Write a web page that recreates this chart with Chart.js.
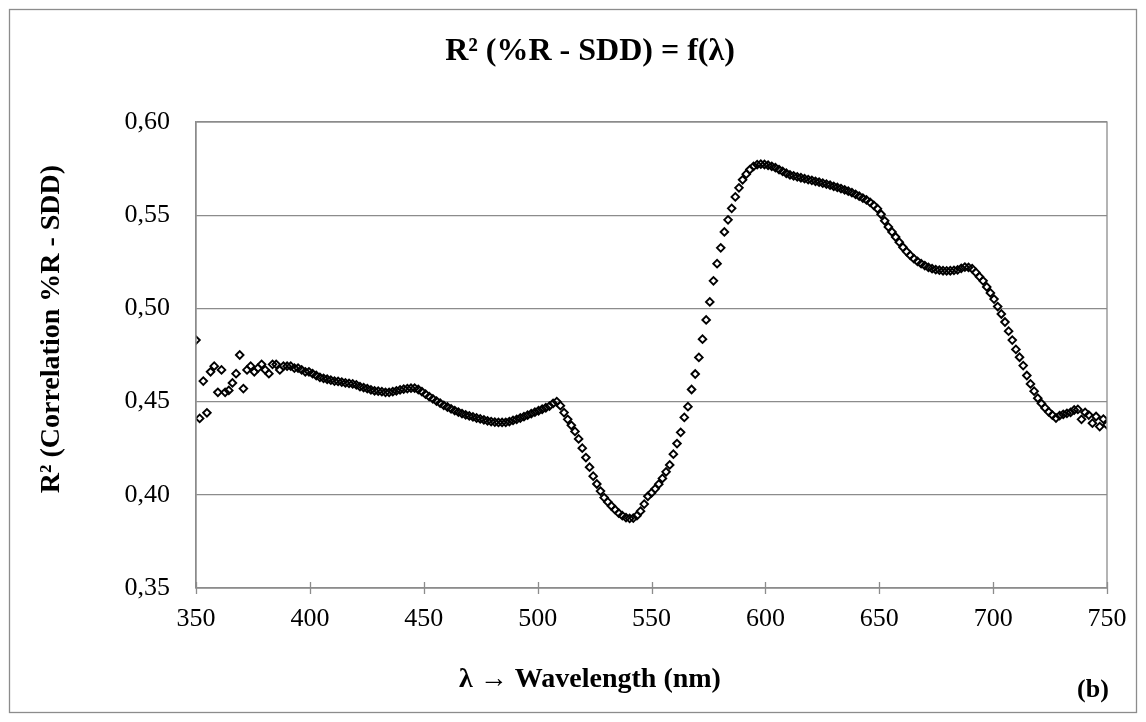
<!DOCTYPE html>
<html>
<head>
<meta charset="utf-8">
<script src="https://cdn.jsdelivr.net/npm/chart.js@4/dist/chart.umd.min.js"></script>
<style>
html,body{margin:0;padding:0;background:#fff;}
#wrap{width:1146px;height:722px;}
</style>
</head>
<body>
<div id="wrap"><canvas id="c" width="1146" height="722"></canvas></div>
<script>
const chartTitle = 'R² (%R - SDD) = f(λ)';
const xTitle = 'λ → Wavelength (nm)';
const yTitle = 'R² (Correlation %R - SDD)';
const panelLabel = '(b)';

const wavelengths = [
350,351.6,353.2,354.8,356.4,358,359.6,361.2,362.8,364.4,366,367.6,369.2,370.8,372.4,374,375.6,377.2,378.8,380.4,382,383.6,385.2,386.8,388.4,
390,391.6,393.2,394.8,396.4,398,399.6,401.2,402.8,404.4,406,407.6,409.2,410.8,412.4,414,415.6,417.2,418.8,420.4,422,423.6,425.2,426.8,428.4,
430,431.6,433.2,434.8,436.4,438,439.6,441.2,442.8,444.4,446,447.6,449.2,450.8,452.4,454,455.6,457.2,458.8,460.4,462,463.6,465.2,466.8,468.4,
470,471.6,473.2,474.8,476.4,478,479.6,481.2,482.8,484.4,486,487.6,489.2,490.8,492.4,494,495.6,497.2,498.8,500.4,502,503.6,505.2,506.8,508.4,
510,511.6,513.2,514.8,516.4,518,519.6,521.2,522.8,524.4,526,527.6,529.2,530.8,532.4,534,535.6,537.2,538.8,540.4,542,543.6,545.2,546.8,548.4,
550,551.6,553.2,554.8,556.4,558,559.6,561.2,562.8,564.4,566,567.6,569.2,570.8,572.4,574,575.6,577.2,578.8,580.4,582,583.6,585.2,586.8,588.4,
590,591.6,593.2,594.8,596.4,598,599.6,601.2,602.8,604.4,606,607.6,609.2,610.8,612.4,614,615.6,617.2,618.8,620.4,622,623.6,625.2,626.8,628.4,
630,631.6,633.2,634.8,636.4,638,639.6,641.2,642.8,644.4,646,647.6,649.2,650.8,652.4,654,655.6,657.2,658.8,660.4,662,663.6,665.2,666.8,668.4,
670,671.6,673.2,674.8,676.4,678,679.6,681.2,682.8,684.4,686,687.6,689.2,690.8,692.4,694,695.6,697.2,698.8,700.4,702,703.6,705.2,706.8,708.4,
710,711.6,713.2,714.8,716.4,718,719.6,721.2,722.8,724.4,726,727.6,729.2,730.8,732.4,734,735.6,737.2,738.8,740.4,742,743.6,745.2,746.8,748.4,
750
];

const r2 = [
0.483,0.441,0.461,0.444,0.466,0.469,0.455,0.467,0.455,0.456,0.460,0.465,0.475,0.457,0.467,0.469,0.466,0.468,0.470,0.467,0.465,0.470,0.470,0.467,0.469,
0.469,0.469,0.468,0.468,0.467,0.466,0.466,0.465,0.464,0.463,0.4625,0.462,0.4615,0.461,0.4608,0.4605,0.460,0.4598,0.4595,0.459,0.458,0.4575,0.457,0.4563,0.4558,
0.4556,0.4553,0.455,0.455,0.4553,0.4558,0.4563,0.4567,0.457,0.4572,0.4572,0.4565,0.4553,0.454,0.4527,0.4515,0.4503,0.4492,0.448,0.4471,0.4461,0.4452,0.4444,0.4436,0.4429,
0.4423,0.4418,0.4412,0.4407,0.4402,0.4397,0.4393,0.439,0.4388,0.4388,0.4389,0.4393,0.4399,0.4405,0.4412,0.4419,0.4427,0.4435,0.4443,0.4451,0.4459,0.4467,0.4476,0.449,0.450,
0.4478,0.4441,0.4405,0.4373,0.434,0.430,0.425,0.420,0.4148,0.410,0.4058,0.402,0.3985,0.3962,0.394,0.392,0.3902,0.3888,0.3878,0.3873,0.3875,0.3888,0.3912,0.395,0.3992,
0.4010,0.4032,0.4057,0.4088,0.4123,0.4160,0.4218,0.4275,0.4335,0.4415,0.4473,0.4565,0.4648,0.4737,0.4835,0.4938,0.5035,0.5148,0.5240,0.5325,0.5410,0.5475,0.5537,0.5598,0.5647,
0.5690,0.5720,0.5745,0.5762,0.5771,0.5774,0.5772,0.5768,0.5762,0.5755,0.5745,0.5735,0.5725,0.5716,0.5711,0.5706,0.5701,0.5696,0.5691,0.5687,0.5682,0.5677,0.5672,0.5667,0.5661,
0.5655,0.5649,0.5643,0.5636,0.5629,0.5621,0.5612,0.5602,0.5592,0.5582,0.5569,0.5553,0.5535,0.5505,0.5470,0.5437,0.5410,0.5383,0.5355,0.5328,0.5305,0.5285,0.5267,0.5252,0.5240,
0.5230,0.5220,0.5213,0.5208,0.5205,0.5202,0.5201,0.5202,0.5204,0.5207,0.5215,0.5222,0.5220,0.5213,0.5193,0.5170,0.5148,0.5115,0.5083,0.5050,0.5010,0.4970,0.4927,0.4878,0.4830,
0.4780,0.4738,0.4693,0.4640,0.4595,0.4556,0.4518,0.4490,0.4466,0.4445,0.4428,0.4412,0.4425,0.4432,0.4437,0.4442,0.4455,0.4458,0.4405,0.4442,0.4428,0.4384,0.4420,0.4366,0.4406,
0.4375
];

const xMin = 350, xMax = 750, xStep = 50;
const yMin = 0.35, yMax = 0.60, yStep = 0.05;

const FONT = "'Liberation Serif', 'Times New Roman', serif";
const GRID = '#8c8c8c';

const points = wavelengths.map((w, i) => ({x: w, y: r2[i]}));

const decor = {
  id: 'decor',
  beforeDraw(chart) {
    const c = chart.ctx;
    c.save();
    c.fillStyle = '#fff';
    c.fillRect(0, 0, chart.width, chart.height);
    c.restore();
  },
  afterDraw(chart) {
    const c = chart.ctx;
    const a = chart.chartArea;
    const xs = chart.scales.x;
    c.save();
    c.strokeStyle = GRID;
    c.lineWidth = 1.3;
    c.strokeRect(9.5, 9.5, 1127, 703);
    c.strokeRect(a.left, a.top, a.right - a.left, a.bottom - a.top);
    c.beginPath();
    xs.ticks.forEach(t => {
      const px = Math.round(xs.getPixelForValue(t.value)) + 0.5;
      c.moveTo(px, a.bottom - 6);
      c.lineTo(px, a.bottom + 6);
    });
    c.stroke();
    c.fillStyle = '#000';
    c.textAlign = 'center';
    c.textBaseline = 'middle';
    c.font = "bold 32px " + FONT;
    c.fillText(chartTitle, 590, 52);
    c.font = "bold 28px " + FONT;
    c.fillText(xTitle, 590, 680);
    c.font = "bold 26px " + FONT;
    c.fillText(panelLabel, 1093, 690);
    c.save();
    c.translate(52, 329);
    c.rotate(-Math.PI / 2);
    c.font = "bold 28px " + FONT;
    c.fillText(yTitle, 0, 0);
    c.restore();
    c.restore();
  }
};

new Chart(document.getElementById('c'), {
  type: 'scatter',
  data: {
    datasets: [{
      data: points,
      showLine: false,
      pointStyle: 'rectRot',
      pointRadius: 3.8,
      pointHoverRadius: 3.8,
      borderWidth: 1.9,
      borderColor: '#000',
      backgroundColor: 'rgba(0,0,0,0)'
    }]
  },
  options: {
    responsive: false,
    animation: false,
    events: [],
    layout: {padding: {top: 122, right: 39, left: 0, bottom: 0}},
    plugins: {legend: {display: false}, title: {display: false}, tooltip: {enabled: false}},
    scales: {
      x: {
        type: 'linear', min: xMin, max: xMax,
        afterFit(s) { s.height = 134; },
        ticks: {stepSize: xStep, padding: 16, color: '#000', font: {family: FONT, size: 26}},
        grid: {display: true, drawOnChartArea: false, drawTicks: false, color: GRID, lineWidth: 1.3},
        border: {display: true, color: GRID, width: 1.3}
      },
      y: {
        type: 'linear', min: yMin, max: yMax,
        afterFit(s) { s.width = 196; },
        ticks: {stepSize: yStep, padding: 26, color: '#000', font: {family: FONT, size: 26},
          callback: v => v.toFixed(2).replace('.', ',')},
        grid: {color: GRID, lineWidth: 1.3, drawTicks: false},
        border: {display: true, color: GRID, width: 1.3}
      }
    }
  },
  plugins: [decor]
});
</script>
</body>
</html>
